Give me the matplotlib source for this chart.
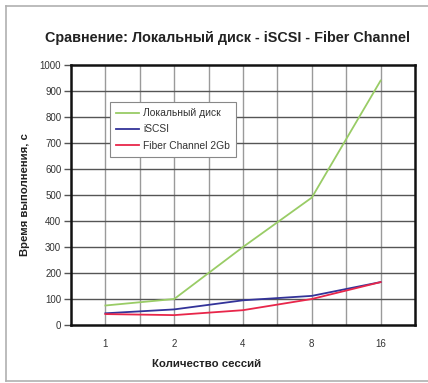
import matplotlib
matplotlib.use("Agg")
import matplotlib.pyplot as plt
from matplotlib.lines import Line2D

plt.rcParams['font.family'] = ['Liberation Sans', 'DejaVu Sans']

sessions = ["1", "2", "4", "8", "16"]
local_disk = [75, 100, 300, 490, 940]
iscsi = [45, 60, 95, 112, 165]
fiber_channel = [42, 38, 57, 100, 165]
y_ticks = [0, 100, 200, 300, 400, 500, 600, 700, 800, 900, 1000]

W, H = 428, 383
fig = plt.figure(figsize=(W / 100, H / 100), dpi=100)
fig.patch.set_facecolor("white")

# thin grey frame on the left, top and bottom of the chart
frame_kw = dict(transform=fig.transFigure, color="#b0b0b0", linewidth=1.2)
fig.add_artist(Line2D([5.5 / W, 5.5 / W], [1 - 5.5 / H, 1 - 380.5 / H], **frame_kw))
fig.add_artist(Line2D([5.5 / W, 1], [1 - 5.5 / H, 1 - 5.5 / H], **frame_kw))
fig.add_artist(Line2D([5.5 / W, 1], [1 - 380.5 / H, 1 - 380.5 / H], **frame_kw))

ax = fig.add_axes([71 / W, 1 - 325 / H, 344 / W, 260 / H])
x = list(range(len(sessions)))

# grid: half-category vertical lines, horizontal at every tick
for gx in [i * 0.5 for i in range(0, 2 * len(sessions) - 1)]:
    ax.axvline(gx, color="#9a9a9a", linewidth=1.0, zorder=1)
for gy in y_ticks[1:-1]:
    ax.axhline(gy, color="#555555", linewidth=1.0, zorder=1)

ax.plot(x, local_disk, color="#99cc66", linewidth=1.3, label="Локальный диск", zorder=3)
ax.plot(x, iscsi, color="#333399", linewidth=1.3, label="iSCSI", zorder=3)
ax.plot(x, fiber_channel, color="#e8264a", linewidth=1.3, label="Fiber Channel 2Gb", zorder=3)

ax.set_xlim(-0.5, len(sessions) - 0.5)
ax.set_ylim(0, 1000)
ax.set_xticks(x)
ax.set_xticklabels(sessions)
ax.set_yticks(y_ticks)
ax.tick_params(axis="y", length=5, width=1, color="#555555", labelsize=7,
               labelcolor="#333333", pad=2)
ax.tick_params(axis="x", length=0, labelsize=7, labelcolor="#333333", pad=10)

for s in ax.spines.values():
    s.set_linewidth(1.8)
    s.set_color("#111111")

ax.set_xlabel("Количество сессий", fontsize=8.2, fontweight="bold",
              color="#222222", labelpad=7, x=0.395)
ax.set_ylabel("Время выполнения, с", fontsize=8.2, fontweight="bold",
              color="#222222", labelpad=7)

fig.text(228 / W, 1 - 38 / H, "Сравнение: Локальный диск - iSCSI - Fiber Channel",
         ha="center", va="center", fontsize=10.4, fontweight="bold", color="#222222")

leg = ax.legend(loc="upper left", bbox_to_anchor=((105 - 71) / 344, (325 - 97) / 260),
                fontsize=7.4, frameon=True, fancybox=False, handlelength=2.2,
                handletextpad=0.4, borderpad=0.6, labelspacing=0.6,
                edgecolor="#888888", framealpha=1)
leg.get_frame().set_linewidth(0.8)
for t in leg.get_texts():
    t.set_color("#333333")

fig.savefig("out.png", dpi=100)
